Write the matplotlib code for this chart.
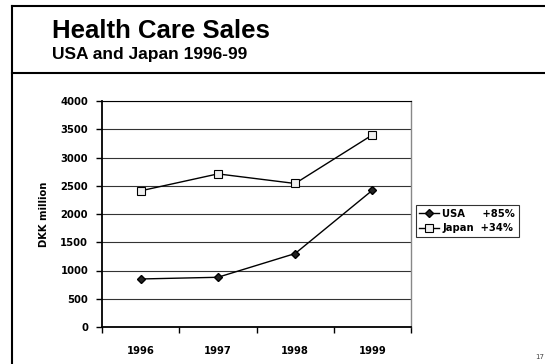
import numpy as np
import matplotlib.pyplot as plt
from matplotlib.lines import Line2D

# data
years = ['1996', '1997', '1998', '1999']
usa = [850, 880, 1300, 2420]
japan = [2410, 2710, 2540, 3400]
usa_label = 'USA     +85%'
japan_label = 'Japan  +34%'

fig = plt.figure(figsize=(5.45, 3.64), dpi=100)

# slide frame lines
fig.add_artist(Line2D([12/545, 12/545], [0, 1 - 6/364], transform=fig.transFigure, color='black', lw=1.5))
fig.add_artist(Line2D([12/545, 1], [1 - 6/364, 1 - 6/364], transform=fig.transFigure, color='black', lw=1.5))
fig.add_artist(Line2D([12/545, 1], [1 - 73/364, 1 - 73/364], transform=fig.transFigure, color='black', lw=1.5))

fig.text(52/545, 1 - 31/364, 'Health Care Sales', fontsize=18.5, fontweight='bold',
         family='Liberation Sans', va='center', ha='left')
fig.text(52/545, 1 - 55/364, 'USA and Japan 1996-99', fontsize=12.5, fontweight='bold',
         family='Liberation Sans', va='center', ha='left')
fig.text(544/545, 1 - 357/364, '17', fontsize=5, color='#444444', va='center', ha='right')

ax = fig.add_axes([102/545, 1 - 327/364, 309/545, 226/364])
x = np.arange(len(years))

ax.plot(x, usa, color='black', lw=1, marker='D', markersize=4.5,
        markerfacecolor='#222222', markeredgecolor='black', label=usa_label)
ax.plot(x, japan, color='black', lw=1, marker='s', markersize=6,
        markerfacecolor='#f0f0f0', markeredgecolor='black', markeredgewidth=0.8, label=japan_label)

ax.set_xlim(-0.5, 3.5)
ax.set_ylim(0, 4000)
ax.set_yticks(np.arange(0, 4001, 500))
ax.set_xticks(x)
ax.set_xticklabels(years)
ax.set_xticks(np.arange(-0.5, 3.6, 1), minor=True)
ax.tick_params(axis='x', which='major', length=0, pad=14)
ax.tick_params(axis='x', which='minor', length=4, direction='out', width=1)
ax.tick_params(axis='y', length=4, direction='out', width=1, pad=6)
for lab in ax.get_xticklabels() + ax.get_yticklabels():
    lab.set_fontweight('bold')
    lab.set_fontsize(7.2)

ax.grid(axis='y', color='#333333', lw=0.8)
ax.set_axisbelow(True)
ax.spines['left'].set_linewidth(1.3)
ax.spines['bottom'].set_linewidth(1.3)
ax.spines['top'].set_color('black')
ax.spines['top'].set_linewidth(0.8)
ax.spines['right'].set_color('#888888')
ax.spines['right'].set_linewidth(1)

ax.set_ylabel('DKK million', fontsize=7.2, fontweight='bold', labelpad=8)

leg = ax.legend(loc='center left', bbox_to_anchor=(1.015, 0.47), frameon=True, fancybox=False,
                edgecolor='black', prop={'weight': 'bold', 'size': 7.2},
                handlelength=2.0, handletextpad=0.3, borderpad=0.35, labelspacing=0.45,
                borderaxespad=0)
leg.get_frame().set_linewidth(0.8)

fig.savefig('out.png', dpi=100)
